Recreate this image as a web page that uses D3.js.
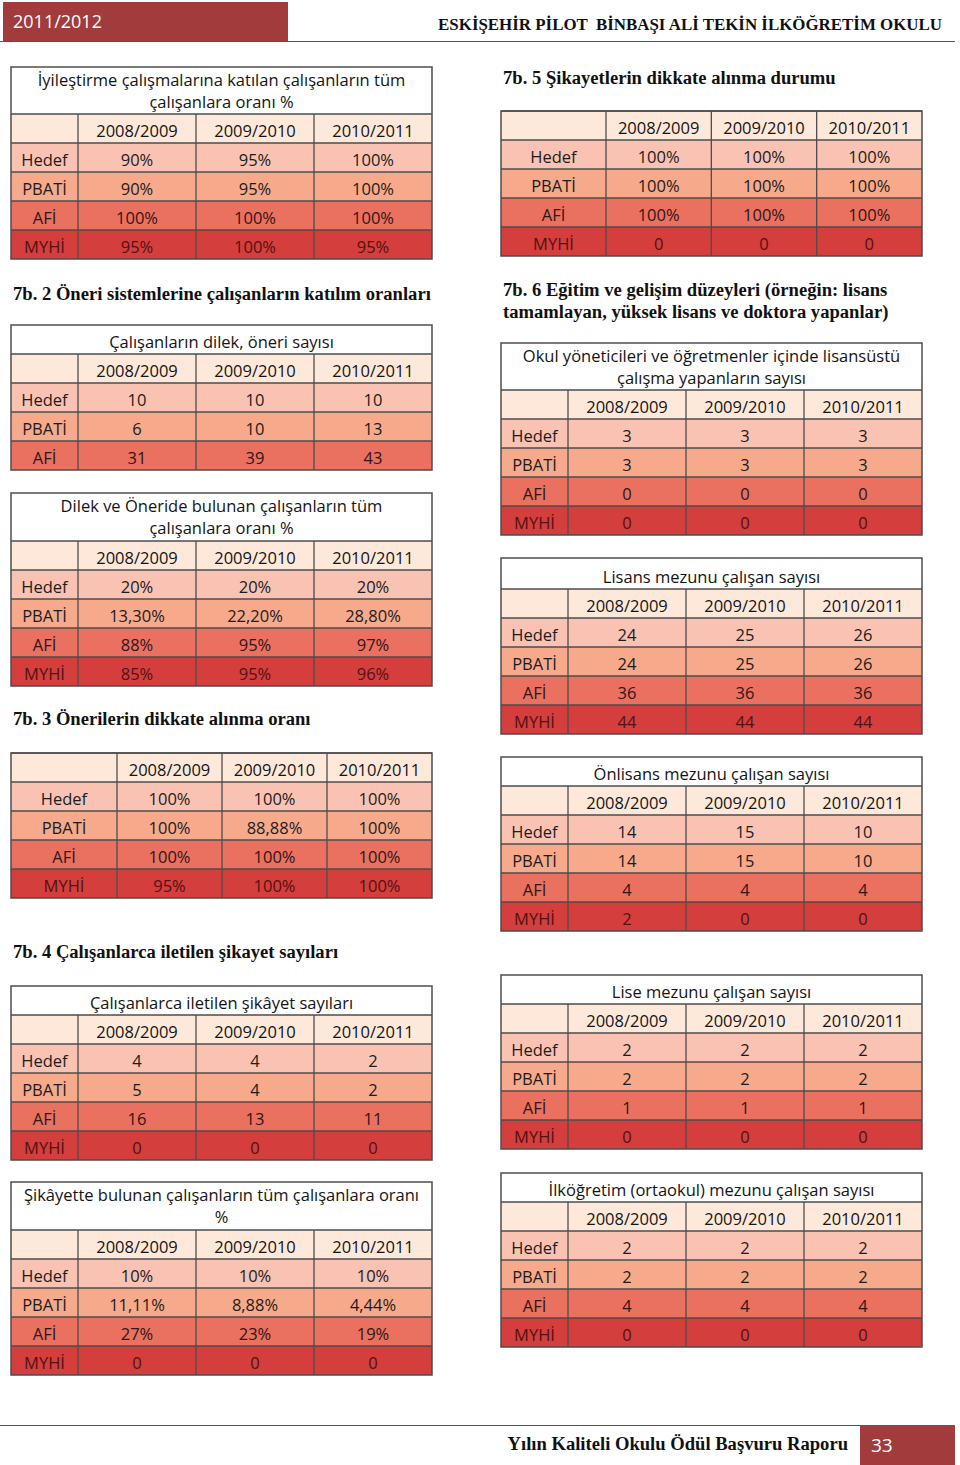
<!DOCTYPE html>
<html>
<head>
<meta charset="utf-8">
<script src="https://cdn.jsdelivr.net/npm/d3@7"></script>
<style>
  html, body { margin: 0; padding: 0; background: #fff; }
  svg { display: block; }
  text { white-space: pre; }
</style>
</head>
<body>
<div id="chart"></div>
<script>
// ---------------- DATA ----------------
const years = ["2008/2009", "2009/2010", "2010/2011"];
const rowLabels = ["Hedef", "PBATİ", "AFİ", "MYHİ"];
const rowLabels3 = ["Hedef", "PBATİ", "AFİ"];

const pageYear = "2011/2012";
const schoolName = "ESKİŞEHİR PİLOT  BİNBAŞI ALİ TEKİN İLKÖĞRETİM OKULU";
const footerText = "Yılın Kaliteli Okulu Ödül Başvuru Raporu";
const pageNumber = "33";

const headings = [
  ["7b. 2 Öneri sistemlerine çalışanların katılım oranları"],
  ["7b. 3 Önerilerin dikkate alınma oranı"],
  ["7b. 4 Çalışanlarca iletilen şikayet sayıları"],
  ["7b. 5 Şikayetlerin dikkate alınma durumu"],
  ["7b. 6 Eğitim ve gelişim düzeyleri (örneğin: lisans", "tamamlayan, yüksek lisans ve doktora yapanlar)"]
];

const t1Title = ["İyileştirme çalışmalarına katılan çalışanların tüm", "çalışanlara oranı %"];
const t1Values = [["90%", "95%", "100%"], ["90%", "95%", "100%"], ["100%", "100%", "100%"], ["95%", "100%", "95%"]];

const t2Title = ["Çalışanların dilek, öneri sayısı"];
const t2Values = [["10", "10", "10"], ["6", "10", "13"], ["31", "39", "43"]];

const t3Title = ["Dilek ve Öneride bulunan çalışanların tüm", "çalışanlara oranı %"];
const t3Values = [["20%", "20%", "20%"], ["13,30%", "22,20%", "28,80%"], ["88%", "95%", "97%"], ["85%", "95%", "96%"]];

const t4Title = [];
const t4Values = [["100%", "100%", "100%"], ["100%", "88,88%", "100%"], ["100%", "100%", "100%"], ["95%", "100%", "100%"]];

const t5Title = ["Çalışanlarca iletilen şikâyet sayıları"];
const t5Values = [["4", "4", "2"], ["5", "4", "2"], ["16", "13", "11"], ["0", "0", "0"]];

const t6Title = ["Şikâyette bulunan çalışanların tüm çalışanlara oranı", "%"];
const t6Values = [["10%", "10%", "10%"], ["11,11%", "8,88%", "4,44%"], ["27%", "23%", "19%"], ["0", "0", "0"]];

const r1Title = [];
const r1Values = [["100%", "100%", "100%"], ["100%", "100%", "100%"], ["100%", "100%", "100%"], ["0", "0", "0"]];

const r2Title = ["Okul yöneticileri ve öğretmenler içinde lisansüstü", "çalışma yapanların sayısı"];
const r2Values = [["3", "3", "3"], ["3", "3", "3"], ["0", "0", "0"], ["0", "0", "0"]];

const r3Title = ["Lisans mezunu çalışan sayısı"];
const r3Values = [["24", "25", "26"], ["24", "25", "26"], ["36", "36", "36"], ["44", "44", "44"]];

const r4Title = ["Önlisans mezunu çalışan sayısı"];
const r4Values = [["14", "15", "10"], ["14", "15", "10"], ["4", "4", "4"], ["2", "0", "0"]];

const r5Title = ["Lise mezunu çalışan sayısı"];
const r5Values = [["2", "2", "2"], ["2", "2", "2"], ["1", "1", "1"], ["0", "0", "0"]];

const r6Title = ["İlköğretim (ortaokul) mezunu çalışan sayısı"];
const r6Values = [["2", "2", "2"], ["2", "2", "2"], ["4", "4", "4"], ["0", "0", "0"]];

// ---------------- STYLE / LAYOUT ----------------
const W = 960, H = 1465;
const ROW_H = 29;
const FS = 16.5;
const sansFont = "'Open Sans', 'Noto Sans', sans-serif";
const serifFont = "'Liberation Serif', 'DejaVu Serif', serif";
const headerFill = "#fde8da";
const rowFill = d3.scaleOrdinal().domain(rowLabels).range(["#f9c2b2", "#f6a98b", "#ea7060", "#d43e3c"]);
const rowText = d3.scaleOrdinal().domain(rowLabels).range(["#1c1c1c", "#1c1c1c", "#301616", "#521212"]);
const borderColor = "#4d4d4d";
const brand = "#a23b3c";

const tables = [
  { title: t1Title, values: t1Values, labels: rowLabels,  x: 11,  y: 67,   w: 421, firstW: 67,  titleH: 47 },
  { title: t2Title, values: t2Values, labels: rowLabels3, x: 11,  y: 325,  w: 421, firstW: 67,  titleH: 29 },
  { title: t3Title, values: t3Values, labels: rowLabels,  x: 11,  y: 493,  w: 421, firstW: 67,  titleH: 48 },
  { title: t4Title, values: t4Values, labels: rowLabels,  x: 11,  y: 753,  w: 421, firstW: 106, titleH: 0 },
  { title: t5Title, values: t5Values, labels: rowLabels,  x: 11,  y: 986,  w: 421, firstW: 67,  titleH: 29 },
  { title: t6Title, values: t6Values, labels: rowLabels,  x: 11,  y: 1182, w: 421, firstW: 67,  titleH: 48 },
  { title: r1Title, values: r1Values, labels: rowLabels,  x: 501, y: 111,  w: 421, firstW: 105, titleH: 0 },
  { title: r2Title, values: r2Values, labels: rowLabels,  x: 501, y: 343,  w: 421, firstW: 67,  titleH: 47 },
  { title: r3Title, values: r3Values, labels: rowLabels,  x: 501, y: 558,  w: 421, firstW: 67,  titleH: 31 },
  { title: r4Title, values: r4Values, labels: rowLabels,  x: 501, y: 757,  w: 421, firstW: 67,  titleH: 29 },
  { title: r5Title, values: r5Values, labels: rowLabels,  x: 501, y: 975,  w: 421, firstW: 67,  titleH: 29 },
  { title: r6Title, values: r6Values, labels: rowLabels,  x: 501, y: 1173, w: 421, firstW: 67,  titleH: 29 }
];

const headingPos = [
  { x: 13,  y: 300 },
  { x: 13,  y: 725 },
  { x: 13,  y: 958 },
  { x: 503, y: 84 },
  { x: 503, y: 296 }
];

// ---------------- DRAW ----------------
const svg = d3.select("#chart").append("svg")
  .attr("width", W).attr("height", H)
  .attr("viewBox", `0 0 ${W} ${H}`);

svg.append("rect").attr("width", W).attr("height", H).attr("fill", "#fff");

// Page header
svg.append("rect").attr("x", 3).attr("y", 2).attr("width", 285).attr("height", 39).attr("fill", brand);
svg.append("text").attr("x", 13).attr("y", 28)
  .attr("font-family", sansFont).attr("font-size", 18).attr("fill", "#fff")
  .text(pageYear);
svg.append("line").attr("x1", 0).attr("x2", 955).attr("y1", 41.5).attr("y2", 41.5)
  .attr("stroke", "#555").attr("stroke-width", 1.2);
svg.append("text").attr("x", 942).attr("y", 30).attr("text-anchor", "end")
  .attr("font-family", serifFont).attr("font-weight", "bold").attr("font-size", 16.9).attr("fill", "#111")
  .text(schoolName);

// Section headings
headings.forEach((lines, i) => {
  const t = svg.append("text")
    .attr("x", headingPos[i].x).attr("y", headingPos[i].y)
    .attr("font-family", serifFont).attr("font-weight", "bold").attr("font-size", 18.6).attr("fill", "#111");
  lines.forEach((ln, j) => {
    t.append("tspan").attr("x", headingPos[i].x).attr("dy", j === 0 ? 0 : 22).text(ln);
  });
});

// Tables
function drawTable(spec) {
  const g = svg.append("g");
  const { x, y, w, firstW, titleH, labels, values, title } = spec;
  const bodyTop = y + titleH;
  const rowKeys = ["__head", ...labels];
  const rowScale = d3.scaleBand().domain(rowKeys).range([bodyTop, bodyTop + ROW_H * rowKeys.length]);
  const colScale = d3.scaleBand().domain(years).range([x + firstW, x + w]);
  const bottom = rowScale.range()[1];

  if (titleH > 0) {
    g.append("rect").attr("x", x).attr("y", y).attr("width", w).attr("height", titleH).attr("fill", "#fff");
    const tt = g.append("text")
      .attr("x", x + w / 2).attr("text-anchor", "middle")
      .attr("font-family", sansFont).attr("font-size", FS).attr("fill", "#141414");
    const n = title.length;
    title.forEach((ln, j) => {
      const base = n === 1 ? y + titleH - 6 : y + 19 + j * 22;
      tt.append("tspan").attr("x", x + w / 2).attr("y", base).text(ln);
    });
  }

  g.selectAll("rect.row").data(rowKeys).join("rect").attr("class", "row")
    .attr("x", x).attr("y", d => rowScale(d))
    .attr("width", w).attr("height", rowScale.bandwidth())
    .attr("fill", d => d === "__head" ? headerFill : rowFill(d));

  const vx = [x + firstW, ...years.slice(1).map(yv => colScale(yv))];
  g.selectAll("line.v").data(vx).join("line").attr("class", "v")
    .attr("x1", d => d).attr("x2", d => d)
    .attr("y1", bodyTop).attr("y2", bottom)
    .attr("stroke", borderColor).attr("stroke-width", 1.3);
  const hy = rowKeys.map(k => rowScale(k));
  g.selectAll("line.h").data(hy).join("line").attr("class", "h")
    .attr("x1", x).attr("x2", x + w)
    .attr("y1", d => d).attr("y2", d => d)
    .attr("stroke", borderColor).attr("stroke-width", 1.3);
  g.append("rect").attr("x", x).attr("y", y).attr("width", w).attr("height", bottom - y)
    .attr("fill", "none").attr("stroke", borderColor).attr("stroke-width", 1.5);

  const textBase = k => rowScale(k) + rowScale.bandwidth() / 2 + 8;

  g.selectAll("text.yr").data(years).join("text").attr("class", "yr")
    .attr("x", d => colScale(d) + colScale.bandwidth() / 2)
    .attr("y", textBase("__head"))
    .attr("text-anchor", "middle")
    .attr("font-family", sansFont).attr("font-size", FS).attr("fill", "#141414")
    .text(d => d);

  g.selectAll("text.rl").data(labels).join("text").attr("class", "rl")
    .attr("x", x + firstW / 2).attr("y", d => textBase(d))
    .attr("text-anchor", "middle")
    .attr("font-family", sansFont).attr("font-size", FS).attr("fill", d => rowText(d))
    .text(d => d);

  const cells = [];
  labels.forEach((lab, i) => years.forEach((yr, j) => cells.push({ lab, yr, v: values[i][j] })));
  g.selectAll("text.cv").data(cells).join("text").attr("class", "cv")
    .attr("x", d => colScale(d.yr) + colScale.bandwidth() / 2)
    .attr("y", d => textBase(d.lab))
    .attr("text-anchor", "middle")
    .attr("font-family", sansFont).attr("font-size", FS).attr("fill", d => rowText(d.lab))
    .text(d => d.v);
}
tables.forEach(drawTable);

// Footer
svg.append("line").attr("x1", 0).attr("x2", 860).attr("y1", 1425.5).attr("y2", 1425.5)
  .attr("stroke", "#555").attr("stroke-width", 1.2);
svg.append("rect").attr("x", 860).attr("y", 1425).attr("width", 95).attr("height", 40).attr("fill", brand);
svg.append("text").attr("x", 848).attr("y", 1450).attr("text-anchor", "end")
  .attr("font-family", serifFont).attr("font-weight", "bold").attr("font-size", 18.6).attr("fill", "#111")
  .text(footerText);
svg.append("text").attr("x", 871).attr("y", 1452)
  .attr("font-family", sansFont).attr("font-size", 19).attr("fill", "#fff")
  .text(pageNumber);
</script>
</body>
</html>
